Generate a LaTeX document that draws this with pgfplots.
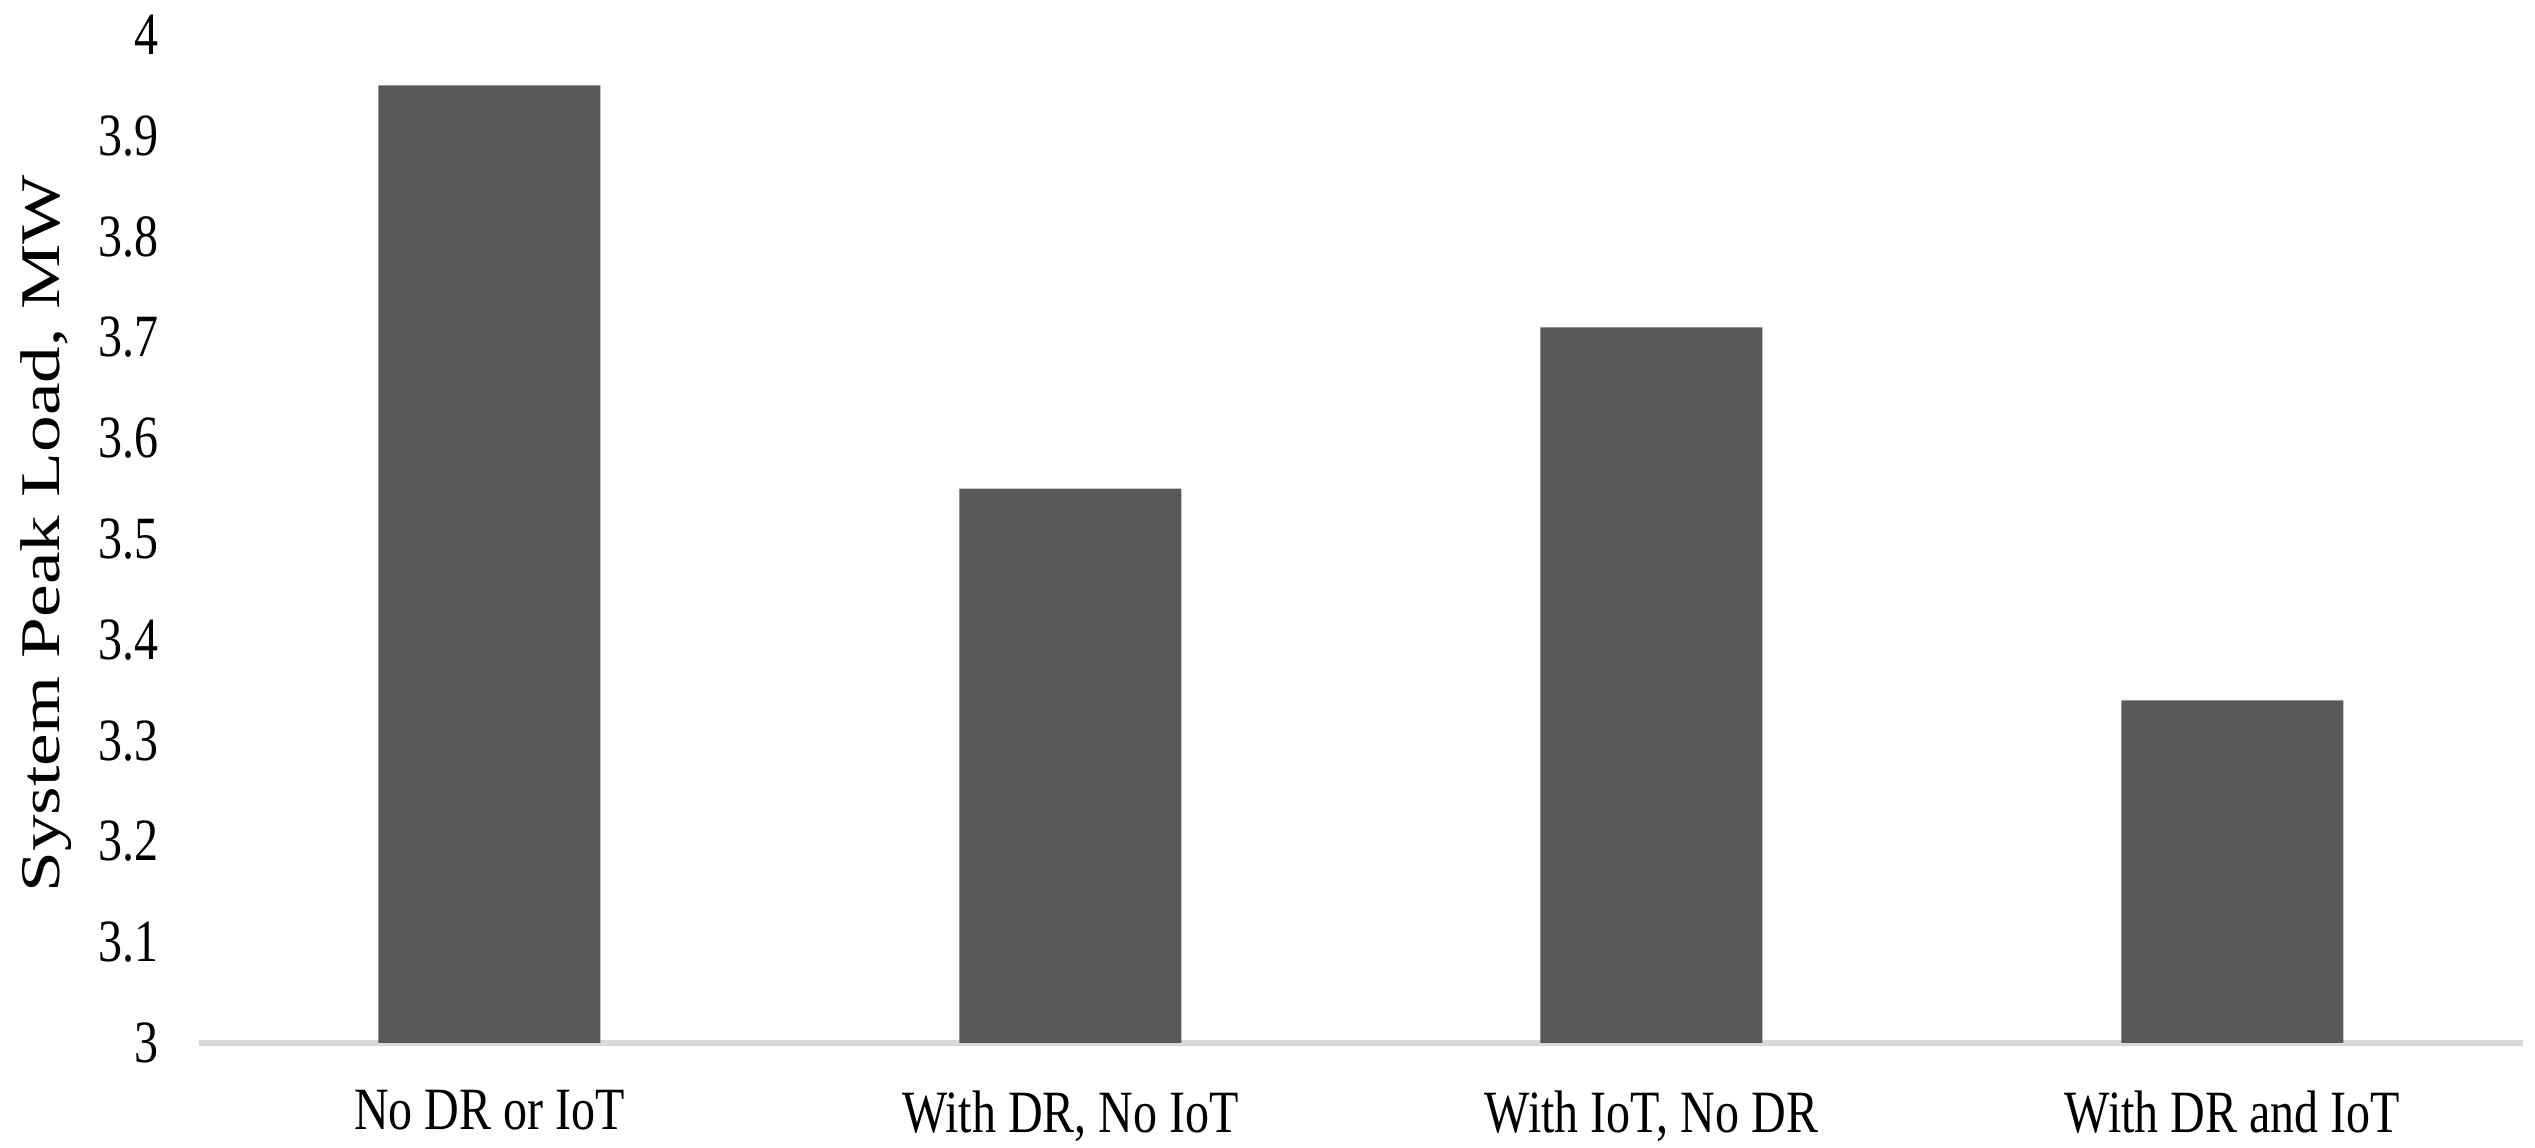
\documentclass[border=0pt]{standalone}
\usepackage{fontspec}
\setmainfont{Liberation Serif}
\newfontfamily\narrowserif[FakeStretch=0.8]{Liberation Serif}
\newfontfamily\wideserif[FakeStretch=1.31]{Liberation Serif}
\newcommand\tickfont{\narrowserif\fontsize{12pt}{14pt}\selectfont}
\newcommand\labelfont{\wideserif\fontsize{11.2pt}{13pt}\selectfont}
\usepackage{pgfplots}
\pgfplotsset{compat=1.18}
\definecolor{barfill}{HTML}{595959}
\definecolor{axisline}{HTML}{D9D9D9}

\begin{document}
\begin{tikzpicture}
\useasboundingbox (-39.8pt,-21pt) rectangle (467.2pt,208.6pt);
\begin{axis}[
  at={(0,0)}, anchor=south west,
  width=464.8pt, height=201.6pt, scale only axis,
  ymin=3, ymax=4, ytick={3,3.1,...,4.01},
  xmin=-0.5, xmax=3.5, xtick={0,1,2,3},
  xticklabels={No DR or IoT, {With DR, No IoT}, {With IoT, No DR}, With DR and IoT},
  axis y line*=left, axis x line*=bottom,
  y axis line style={draw=none},
  x axis line style={draw=axisline, line width=1.2pt},
  major tick length=0pt,
  tick style={draw=none},
  /pgf/number format/assume math mode=true,
  yticklabel style={font=\tickfont, xshift=-4.6pt},
  xticklabel style={font=\tickfont, yshift=-6pt},
  ylabel={System Peak Load, MW},
  every axis y label/.style={at={(axis description cs:-0.066,0.505)}, rotate=90, anchor=center, font=\labelfont},
  clip=false,
]
\addplot[ybar, bar width=44.4pt, fill=barfill, draw=none] coordinates {
  (0,3.95) (1,3.55) (2,3.71) (3,3.34)
};
\end{axis}
\end{tikzpicture}
\end{document}
